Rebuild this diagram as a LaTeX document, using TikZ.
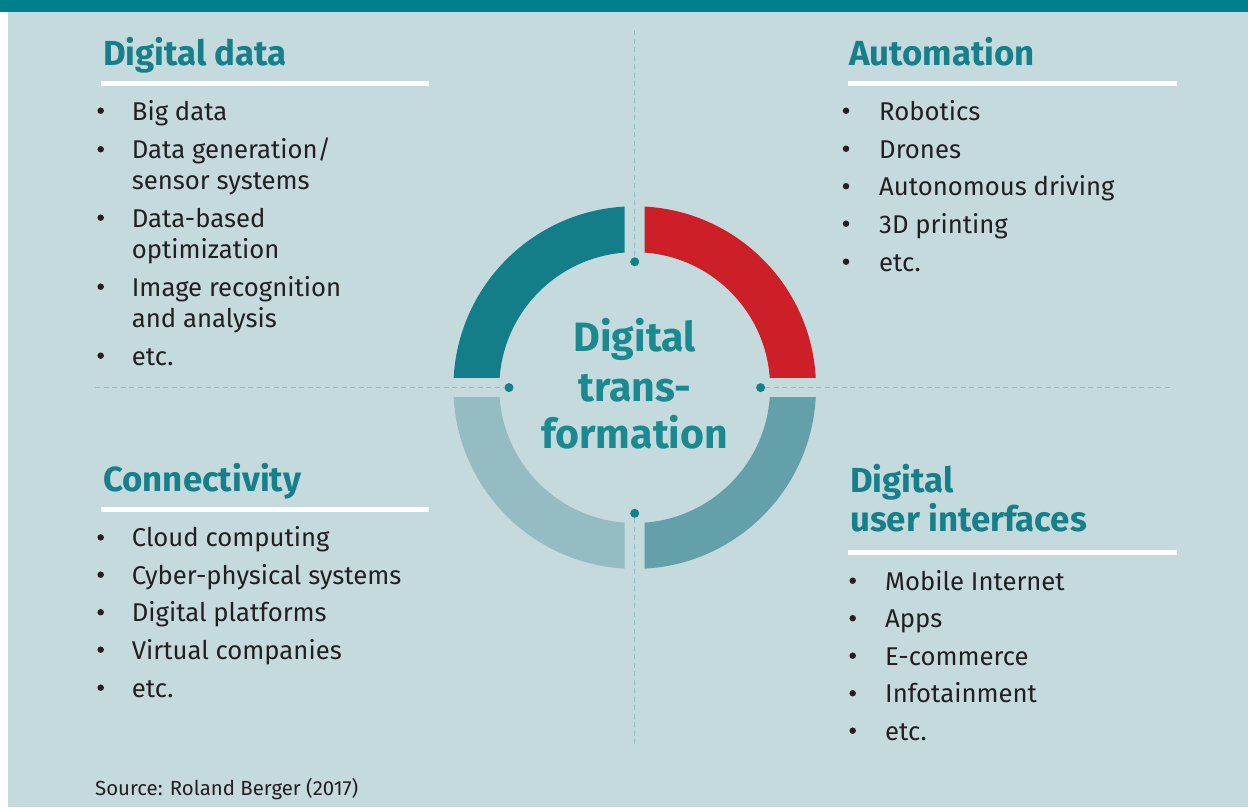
\documentclass[tikz,border=0pt]{standalone}
\usepackage{fontspec}
\setmainfont{Fira Sans}
\definecolor{bgc}{HTML}{C4DADD}
\definecolor{barc}{HTML}{00808C}
\definecolor{tealdark}{HTML}{137E8A}
\definecolor{redseg}{HTML}{CC1F27}
\definecolor{segbr}{HTML}{64A0A9}
\definecolor{segbl}{HTML}{95BCC3}
\definecolor{headc}{HTML}{167F8A}
\definecolor{centc}{HTML}{1B8A90}
\definecolor{dotc}{HTML}{13808A}
\definecolor{dashc}{HTML}{8FBFC6}
\definecolor{txtc}{HTML}{231F20}
\begin{document}
\begin{tikzpicture}[x=1pt,y=-1pt,
  head/.style={inner sep=0pt, anchor=base west, text=headc, font=\fontsize{34.8}{39}\selectfont\bfseries},
  itemtxt/.style={inner sep=0pt, anchor=base west, text=txtc, font=\fontsize{25.7}{30}\selectfont},
  bul/.style={circle, fill=txtc, inner sep=0pt, minimum size=6.5pt},
  cent/.style={inner sep=0pt, anchor=base, text=centc, font=\fontsize{41}{48}\selectfont\bfseries},
  uline/.style={draw=white, line width=5pt},
  dashline/.style={draw=dashc, line width=1pt, dash pattern=on 5pt off 3.5pt},
  dotnode/.style={circle, fill=dotc, inner sep=0pt, minimum size=9pt}
]
\useasboundingbox (0,0) rectangle (1248,807);
\fill[white] (0,0) rectangle (1248,807);
\fill[bgc] (8,0) rectangle (1248,807);
\fill[barc] (0,0) rectangle (1248,11.5);

% centre and ring
\coordinate (c) at (634.7,387.6);
\foreach \sx/\sy/\col in {1/-1/redseg, -1/-1/tealdark, 1/1/segbr, -1/1/segbl}{
  \begin{scope}
    \clip ({634.7+\sx*10},{387.6+\sy*10}) rectangle ({634.7+\sx*200},{387.6+\sy*200});
    \fill[\col, even odd rule] (c) circle[radius=181.3pt] (c) circle[radius=135.4pt];
  \end{scope}
}

% dots
\node[dotnode] (dt) at (634.7,261.8) {};
\node[dotnode] (db) at (634.7,513.3) {};
\node[dotnode] (dl) at (509.0,387.6) {};
\node[dotnode] (dr) at (760.6,387.6) {};

% dashed guide lines
\coordinate (vt) at (634.7,30);
\coordinate (vb) at (634.7,745);
\coordinate (hl) at (95,387.6);
\coordinate (hr) at (1170,387.6);
\draw[dashline] (vt) -- (dt.north);
\draw[dashline] (db.south) -- (vb);
\draw[dashline] (hl) -- (dl.west);
\draw[dashline] (dr.east) -- (hr);

% centre text
\node[cent] (ct1) at (634.7,351.7) {Digital};
\node[cent] (ct2) at (634.7,401) {trans-};
\node[cent] (ct3) at (634.7,448) {formation};

% Digital data
\node[head] (hdd) at (103,65) {Digital data};
\draw[uline] (101,83.5) -- (429,83.5);
\node[bul] (bdd1) at (100.7,110.7) {};
\node[itemtxt] (dd1) at (131.7,120) {Big data};
\node[bul] (bdd2) at (100.7,149.2) {};
\node[itemtxt] (dd2) at (131.7,158.5) {Data generation/};
\node[itemtxt] (dd2b) at (131.7,189) {sensor systems};
\node[bul] (bdd3) at (100.7,217.7) {};
\node[itemtxt] (dd3) at (131.7,227) {Data-based};
\node[itemtxt] (dd3b) at (131.7,258) {optimization};
\node[bul] (bdd4) at (100.7,286.7) {};
\node[itemtxt] (dd4) at (131.7,296) {Image recognition};
\node[itemtxt] (dd4b) at (131.7,327) {and analysis};
\node[bul] (bdd5) at (100.7,355.7) {};
\node[itemtxt] (dd5) at (131.7,365) {etc.};

% Automation
\node[head] (hau) at (849,65) {Automation};
\draw[uline] (848,83.5) -- (1176.5,83.5);
\node[bul] (bau1) at (846,110.7) {};
\node[itemtxt] (au1) at (879,120) {Robotics};
\node[bul] (bau2) at (846,148.7) {};
\node[itemtxt] (au2) at (879,158) {Drones};
\node[bul] (bau3) at (846,186.2) {};
\node[itemtxt] (au3) at (879,195.5) {Autonomous driving};
\node[bul] (bau4) at (846,223.7) {};
\node[itemtxt] (au4) at (879,233) {3D printing};
\node[bul] (bau5) at (846,261.7) {};
\node[itemtxt] (au5) at (879,271) {etc.};

% Connectivity
\node[head] (hco) at (103,491) {Connectivity};
\draw[uline] (101,509.5) -- (429,509.5);
\node[bul] (bco1) at (100.7,537.4) {};
\node[itemtxt] (co1) at (131.7,546.7) {Cloud computing};
\node[bul] (bco2) at (100.7,574.7) {};
\node[itemtxt] (co2) at (131.7,584) {Cyber-physical systems};
\node[bul] (bco3) at (100.7,612.2) {};
\node[itemtxt] (co3) at (131.7,621.5) {Digital platforms};
\node[bul] (bco4) at (100.7,649.7) {};
\node[itemtxt] (co4) at (131.7,659) {Virtual companies};
\node[bul] (bco5) at (100.7,687.7) {};
\node[itemtxt] (co5) at (131.7,697) {etc.};

% Digital user interfaces
\node[head] (hui) at (850,492.7) {Digital};
\node[head] (hui2) at (850,531.7) {user interfaces};
\draw[uline] (848.3,552) -- (1176.7,552);
\node[bul] (bui1) at (852.7,580.7) {};
\node[itemtxt] (ui1) at (885,590) {Mobile Internet};
\node[bul] (bui2) at (852.7,618.2) {};
\node[itemtxt] (ui2) at (885,627.5) {Apps};
\node[bul] (bui3) at (852.7,655.7) {};
\node[itemtxt] (ui3) at (885,665) {E-commerce};
\node[bul] (bui4) at (852.7,693.2) {};
\node[itemtxt] (ui4) at (885,702.5) {Infotainment};
\node[bul] (bui5) at (852.7,730.7) {};
\node[itemtxt] (ui5) at (885,740) {etc.};

% source
\node[inner sep=0pt, anchor=base west, text=txtc, font=\fontsize{20.4}{23}\selectfont] (src) at (95,795) {Source: Roland Berger (2017)};
\end{tikzpicture}
\end{document}
